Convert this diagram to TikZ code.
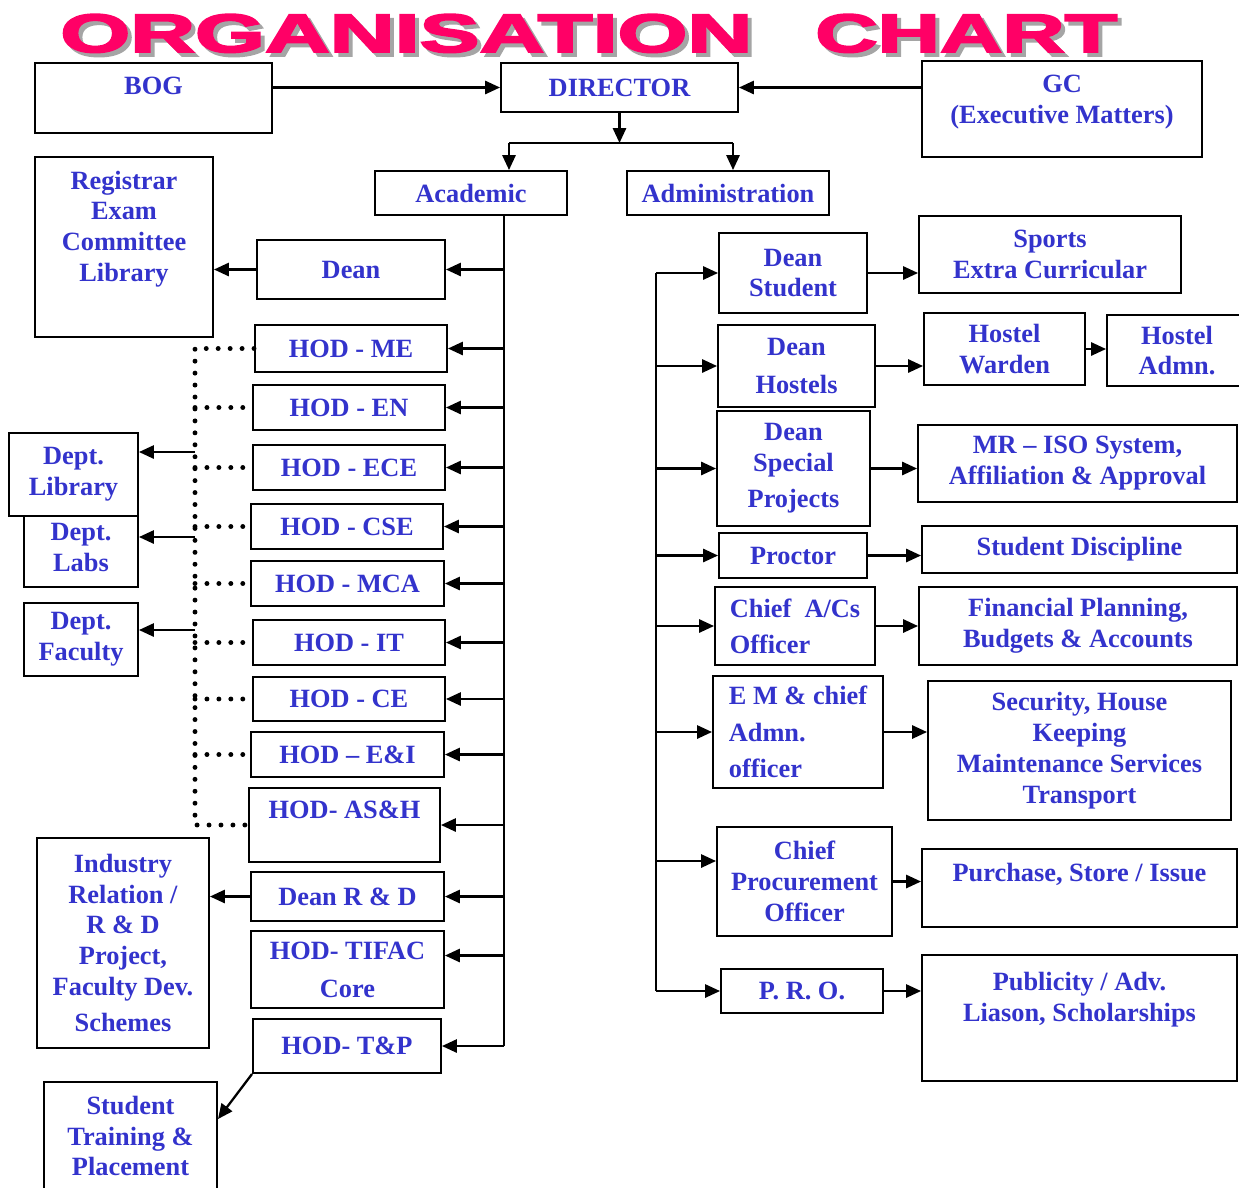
\documentclass[tikz,border=0pt]{standalone}
\usepackage{fontspec}
\setmainfont{Liberation Serif}
\newfontfamily\titlefont{Liberation Sans Bold}[FakeBold=3]
\usetikzlibrary{arrows.meta}

\definecolor{txtblue}{RGB}{51,51,204}
\definecolor{titlepink}{RGB}{255,0,102}
\definecolor{shadowgrey}{RGB}{165,165,165}

\tikzset{
  box/.style={draw, line width=1.1pt, fill=white, align=center, text=txtblue,
    font=\bfseries\fontsize{15}{17.6}\selectfont, inner sep=2pt},
  sz/.style 2 args={minimum width=#1*0.02cm, minimum height=#2*0.02cm},
  lbox/.style={box, align=left},
  link/.style={line width=1.3pt},
  arr/.style={link, ->},
  dots/.style={line width=2.8pt, line cap=round, dash pattern=on 0pt off 6.8pt},
  title/.style={anchor=south west, inner sep=0pt, font=\titlefont},
}

\begin{document}
\begin{tikzpicture}[x=0.02cm, y=-0.02cm, >={Triangle[length=8.5pt,width=7.5pt]}]
  \useasboundingbox (0,0) rectangle (1239,1187);

  % title with its shadow
  \node[title, text=shadowgrey] (orgshadow) at (64,57) {\resizebox{13.84cm}{0.76cm}{ORGANISATION}};
  \node[title, text=shadowgrey] (chartshadow) at (819,57) {\resizebox{6.04cm}{0.76cm}{CHART}};
  \node[title, text=titlepink] (org) at (60,53) {\resizebox{13.84cm}{0.76cm}{ORGANISATION}};
  \node[title, text=titlepink] (chart) at (815,53) {\resizebox{6.04cm}{0.76cm}{CHART}};

  % top level
  \node[box, sz={237}{70}] (bog) at (153.5,98) {BOG\\[-4pt]\mbox{}};
  \node[box, sz={237}{49}] (dir) at (619.5,87.5) {DIRECTOR};
  \node[box, sz={280}{96}] (gc) at (1062,109) {GC\\(Executive Matters)\\[-7pt]\mbox{}};
  \node[box, sz={192}{44}] (acad) at (471,193) {Academic};
  \node[box, sz={202}{44}] (adm) at (728,193) {Administration};

  \draw[arr] (bog.east |- dir.west) -- (dir.west);
  \draw[arr] (gc.west |- dir.east) -- (dir.east);
  \coordinate (split) at (619.5,143);
  \coordinate (lsplit) at (509,143);
  \coordinate (rsplit) at (733,143);
  \draw[arr] (dir.south) -- (split);
  \draw[link] (lsplit) -- (rsplit);
  \draw[arr] (lsplit) -- (lsplit |- acad.north);
  \draw[arr] (rsplit) -- (rsplit |- adm.north);

  % academic side
  \node[box, sz={178}{180}] (reg) at (124,247) {Registrar\\Exam\\Committee\\Library\\[6pt]\mbox{}};
  \node[box, sz={188}{59}] (dean) at (351,269.5) {Dean};
  \node[box, sz={192}{47}] (hme) at (351,348.5) {HOD - ME};
  \node[box, sz={192}{45}] (hen) at (349,407.5) {HOD - EN};
  \node[box, sz={192}{45}] (hece) at (349,467.5) {HOD - ECE};
  \node[box, sz={192}{45}] (hcse) at (347,526.5) {HOD - CSE};
  \node[box, sz={193}{45}] (hmca) at (347.5,583.5) {HOD - MCA};
  \node[box, sz={192}{45}] (hit) at (349,642.5) {HOD - IT};
  \node[box, sz={192}{44}] (hce) at (349,699) {HOD - CE};
  \node[box, sz={193}{45}] (hei) at (347.5,754.5) {HOD -- E\&I};
  \node[box, sz={191}{74}] (hash) at (344.5,825) {HOD- AS\&H\\ \mbox{}};
  \node[box, sz={193}{49}] (drd) at (347.5,896.5) {Dean R \& D};
  \node[box, sz={193}{77}] (htif) at (347.5,969.5) {HOD- TIFAC\\[4pt]Core};
  \node[box, sz={188}{54}] (htp) at (347,1046) {HOD- T\&P};

  \node[box, sz={114}{79}] (dlabs) at (81,547.5) {Dept.\\Labs};
  \node[box, sz={129}{83}] (dlib) at (73.5,474.5) {Dept.\\Library};
  \node[box, sz={114}{73}] (dfac) at (81,639.5) {Dept.\\Faculty};
  \node[box, sz={172}{210}] (ind) at (123,943) {Industry\\Relation /\\R \& D\\Project,\\Faculty Dev.\\[3pt]Schemes};
  \node[box, sz={173}{108}] (stp) at (130.5,1136) {Student\\Training \&\\Placement};

  \coordinate (abus) at (504,215);
  \draw[link] (abus) -- (abus |- htp.east);
  \foreach \n in {dean,hme,hen,hece,hcse,hmca,hit,hce,hei,hash,drd,htp}
    \draw[arr] (abus |- \n.east) -- (\n.east);
  \path (htif.east) ++(0,-14) coordinate (htifin);
  \draw[arr] (abus |- htifin) -- (htifin);

  \draw[arr] (dean.west) -- (reg.east |- dean.west);
  \draw[arr] (drd.west) -- (ind.east |- drd.west);
  \path (stp.north east) ++(0,38) coordinate (stpin);
  \draw[arr] (htp.south west) -- (stpin);

  % dotted link of the departments
  \coordinate (dbus) at (195,348);
  \draw[dots] (hme.west) -- (dbus |- hme.west) -- (dbus |- hash.west) -- (hash.west);
  \foreach \n in {hen,hece,hcse,hmca,hit,hce,hei}
    \draw[dots] (dbus |- \n.west) -- (\n.west);
  \path (dlib.east) ++(0,-22.5) coordinate (dlibin);
  \path (dlabs.east) ++(0,-10.5) coordinate (dlabsin);
  \path (dfac.east) ++(0,-9.5) coordinate (dfacin);
  \foreach \n in {dlibin,dlabsin,dfacin}
    \draw[arr] (dbus |- \n) -- (\n);

  % administration side
  \node[box, sz={148}{80}] (dstu) at (793,273) {Dean\\Student};
  \node[box, sz={157}{82}] (dhos) at (796.5,366) {Dean\\[4pt]Hostels};
  \node[box, sz={153}{115}] (dsp) at (793.5,468.5) {Dean\\Special\\[3pt]Projects};
  \node[box, sz={148}{45}] (proc) at (793,555.5) {Proctor};
  \node[lbox, sz={160}{78}] (cao) at (795,626) {Chief~~A/Cs\\[3pt]Officer};
  \node[lbox, sz={170}{112}] (em) at (798,732) {E M \& chief\\[3pt]Admn.\\[3pt]officer};
  \node[box, sz={175}{109}] (cpo) at (804.5,881.5) {Chief\\Procurement\\Officer};
  \node[box, sz={162}{44}] (pro) at (802,991) {P. R. O.};

  \node[box, sz={262}{77}] (sports) at (1050,254.5) {Sports\\Extra Curricular};
  \node[box, sz={161}{72}] (hwar) at (1004.5,349) {Hostel\\Warden};
  \node[box, sz={140}{71}] (hadm) at (1177,350.5) {Hostel\\Admn.};
  \node[box, sz={319}{77}] (mr) at (1077.5,463.5) {MR -- ISO System,\\Affiliation \& Approval};
  \node[box, sz={315}{47}] (disc) at (1079.5,549.5) {Student Discipline};
  \node[box, sz={318}{78}] (fin) at (1078,626) {Financial Planning,\\Budgets \& Accounts};
  \node[box, sz={303}{139}] (sec) at (1079.5,750.5) {Security, House\\Keeping\\Maintenance Services\\Transport};
  \node[box, sz={315}{78}] (pur) at (1079.5,888) {Purchase, Store / Issue\\ \mbox{}};
  \node[box, sz={315}{126}] (pub) at (1079.5,1018) {Publicity / Adv.\\Liason, Scholarships\\[6pt]\mbox{}};

  \coordinate (rbus) at (656,270);
  \draw[link] (rbus |- dstu.west) -- (rbus |- pro.west);
  \foreach \n in {dstu,dhos,dsp,proc,cao,em,pro}
    \draw[arr] (rbus |- \n.west) -- (\n.west);
  \path (cpo.west) ++(0,-20.5) coordinate (cpoin);
  \draw[arr] (rbus |- cpoin) -- (cpoin);

  \draw[arr] (dstu.east) -- (sports.west |- dstu.east);
  \draw[arr] (dhos.east) -- (hwar.west |- dhos.east);
  \draw[arr] (hwar.east) -- (hadm.west |- hwar.east);
  \draw[arr] (dsp.east) -- (mr.west |- dsp.east);
  \draw[arr] (proc.east) -- (disc.west |- proc.east);
  \draw[arr] (cao.east) -- (fin.west |- cao.east);
  \draw[arr] (em.east) -- (sec.west |- em.east);
  \draw[arr] (cpo.east) -- (pur.west |- cpo.east);
  \draw[arr] (pro.east) -- (pub.west |- pro.east);
\end{tikzpicture}
\end{document}
